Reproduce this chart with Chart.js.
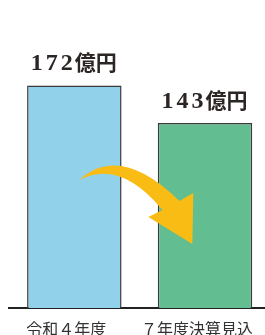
<!DOCTYPE html>
<html>
<head>
<meta charset="utf-8">
<script src="https://cdn.jsdelivr.net/npm/chart.js@4"></script>
<style>
    html, body { margin: 0; padding: 0; background: #fff; overflow: hidden; }
    #wrap { width: 274px; height: 335px; position: relative; }
</style>
</head>
<body>
<div id="wrap"><canvas id="budgetChart"></canvas></div>
<script>
const categories = ['令和４年度', '７年度決算見込'];
const amounts = [172, 143];
const unit = '億円';
const barColors = ['#92d1ea', '#62bd91'];

// amount label above each bar (number in serif, unit in CJK)
const valueLabels = {
    id: 'valueLabels',
    afterDatasetsDraw(chart) {
        const ctx = chart.ctx;
        const bars = chart.getDatasetMeta(0).data;
        const numFont = 'bold 24px "Liberation Serif"';
        const unitFont = 'bold 21px "Noto Sans CJK JP"';
        ctx.save();
        ctx.fillStyle = '#2b2523';
        ctx.textBaseline = 'alphabetic';
        bars.forEach(function (bar, i) {
            const num = String(amounts[i]);
            ctx.font = numFont;
            ctx.letterSpacing = '3px';
            const numW = ctx.measureText(num).width;
            ctx.font = unitFont;
            ctx.letterSpacing = '0px';
            const unitW = ctx.measureText(unit).width;
            const x = bar.x - (numW + unitW) / 2;
            const y = bar.y - 15;
            ctx.font = numFont;
            ctx.letterSpacing = '3px';
            ctx.fillText(num, x, y);
            ctx.font = unitFont;
            ctx.letterSpacing = '0px';
            ctx.fillText(unit, x + numW - 1, y);
        });
        ctx.restore();
    }
};

// curved yellow arrow from first bar to second
const changeArrow = {
    id: 'changeArrow',
    afterDatasetsDraw(chart) {
        const bars = chart.getDatasetMeta(0).data;
        if (bars.length < 2) return;
        const ox = bars[0].x, oy = bars[1].y;
        const p = (dx, dy) => [ox + dx, oy + dy];
        const ctx = chart.ctx;
        ctx.save();
        ctx.fillStyle = '#f8bc14';
        ctx.beginPath();
        ctx.moveTo(...p(5, 57));
        ctx.quadraticCurveTo(...p(46, 20), ...p(105, 78));
        ctx.lineTo(...p(119, 70));
        ctx.lineTo(...p(118, 121));
        ctx.lineTo(...p(74, 94));
        ctx.lineTo(...p(88, 87));
        ctx.quadraticCurveTo(...p(46, 36), ...p(5, 57));
        ctx.closePath();
        ctx.fill();
        ctx.restore();
    }
};

new Chart(document.getElementById('budgetChart'), {
    type: 'bar',
    data: {
        labels: categories,
        datasets: [{
            data: amounts,
            backgroundColor: barColors,
            borderColor: '#3a3a3a',
            borderWidth: 1.5,
            barPercentage: 0.723,
            categoryPercentage: 1
        }]
    },
    options: {
        responsive: true,
        maintainAspectRatio: false,
        animation: false,
        layout: { padding: { left: 9, right: 0, top: 0, bottom: -15 } },
        plugins: {
            legend: { display: false },
            tooltip: { enabled: false }
        },
        scales: {
            x: {
                grid: { display: false, drawTicks: false },
                border: { display: true, color: '#222', width: 2 },
                ticks: {
                    color: '#333',
                    padding: 13,
                    labelOffset: -8,
                    font: { family: '"Noto Sans CJK JP"', size: 16, lineHeight: 1 }
                }
            },
            y: {
                display: false,
                min: 0,
                max: 238
            }
        }
    },
    plugins: [changeArrow, valueLabels]
});
</script>
</body>
</html>
